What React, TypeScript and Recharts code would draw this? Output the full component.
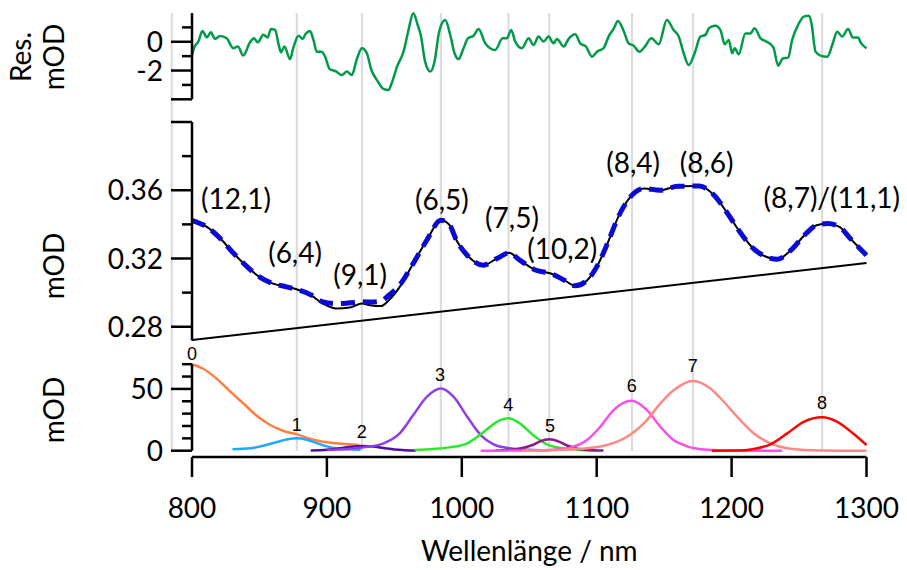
import React from 'react';
import { LineChart, Line, XAxis, YAxis, ReferenceDot } from 'recharts';

const FONT = 'Lato, "Open Sans", sans-serif';
const NUMFONT = '"Liberation Sans", Arial, sans-serif';

// ---------- axis ticks / titles ----------
const xTicks = [800, 900, 1000, 1100, 1200, 1300];
const xTitle = 'Wellenlänge / nm';
const resTicks = [-4, -3, -2, -1, 0, 1];
const resMajor = [-4, -2, 0];
const resLabeled = [-2, 0];
const midTicks = [0.28, 0.3, 0.32, 0.34, 0.36, 0.38, 0.4];
const midMajor = [0.28, 0.32, 0.36, 0.4];
const midLabeled = [0.28, 0.32, 0.36];
const botTicks = [0, 10, 20, 30, 40, 50, 60, 70];
const botMajor = [0, 50];
const botLabeled = [0, 50];

// ---------- peak centres (grey guide lines) ----------
const peakCenters = [785, 877.7, 926, 984.5, 1034.6, 1064.8, 1126.2, 1171.4, 1267.1];

// ---------- residual ----------
const resWl = [800, 802, 804.7, 807.7, 811, 814, 817, 820.8, 825.7, 830.6, 834, 838, 843, 846, 848.7, 853, 856, 858.6, 861.6, 864, 866, 868.5, 872.7, 875, 879, 882, 884, 887.5, 890, 892.5, 896, 898.7, 902, 907, 911, 914.8, 918.5, 922, 926, 929.6, 933, 937, 942, 945.6, 948, 952, 956.8, 960.5, 964, 967.5, 969.5, 972.8, 976.6, 979.8, 983.2, 987.7, 991.4, 994.6, 997.6, 1001.3, 1004.5, 1008.7, 1012.4, 1017.4, 1021, 1024.8, 1030.2, 1033.5, 1036.6, 1039.6, 1044.6, 1049.5, 1053.2, 1056.9, 1060.6, 1064.3, 1068, 1070.5, 1075.5, 1079.2, 1084.1, 1087.8, 1092, 1096.5, 1100.2, 1105.1, 1108.8, 1112.5, 1115.8, 1120, 1123.7, 1127.4, 1131.6, 1136, 1140.5, 1146, 1152, 1157, 1160.8, 1164.5, 1168.2, 1172.6, 1176.9, 1180.6, 1183.5, 1188, 1191.7, 1194.9, 1197.9, 1200.4, 1202.3, 1205.3, 1210.2, 1213.9, 1217.1, 1221.4, 1225, 1228.8, 1231.2, 1234.5, 1237.9, 1241.9, 1244.9, 1249.3, 1253.5, 1257.2, 1259.2, 1262.2, 1265.9, 1270.9, 1274.6, 1278.3, 1282, 1286.4, 1289.9, 1293.8, 1295.6, 1300];
const resVal = [-0.92, -0.33, 0.01, 0.75, 0.31, 0.66, 0.2, 0.4, 0.24, -0.45, -0.33, -0.96, -0.04, 0.24, -0.04, 0.48, 0.29, 0.89, 0.82, -0.11, -0.73, -0.33, -1.2, -0.45, 0.42, 0.2, 0.52, 0.75, 0.13, -0.69, -0.69, -1.04, -1.89, -2.07, -2.31, -2.07, -2.31, -1.26, -0.45, -0.8, -1.96, -2.65, -3.28, -3.36, -2.89, -1.73, -0.69, 0.82, 1.98, 1.1, 0.5, -1.38, -2.07, -1.38, 0.7, 1.51, 0.48, -0.8, -1.2, -0.45, 0.24, 0.42, 0.89, -0.11, -0.45, -0.57, 0.24, 0.24, 0.82, 0.01, -0.45, 0.24, -0.23, 0.36, 0.01, 0.36, -0.11, 0.2, -0.33, 0.2, 0.52, -0.11, -0.33, -1.04, -0.69, -0.45, 0.36, 0.89, 1.45, 0.75, -0.11, -0.27, -0.69, -0.3, 0.24, -0.17, 1.51, 0.82, 0.36, -0.8, -1.62, -0.8, 0.36, 0.48, 0.98, 1.12, 0.82, -0.17, 0.13, -0.8, -0.45, -0.87, 0.58, 0.58, 0.94, 0.24, 0.05, -0.17, -0.45, -1.66, -1.16, -1.1, 0.13, 1.17, 1.75, 1.81, 1.29, -0.69, -0.96, -1.04, -0.23, 0.7, 0.36, 0.89, 0.29, 0.29, -0.04, -0.45];

// ---------- spectrum, fit, baseline ----------
const specWl = [800, 811, 821, 831, 841, 850, 860, 870, 878, 888, 897, 907, 917, 926, 932, 940, 946, 954, 964, 974, 984.5, 991, 996, 1004, 1016, 1026, 1035, 1043, 1055, 1066, 1076, 1084, 1093, 1100, 1108, 1116, 1125, 1135, 1147, 1160, 1176, 1187, 1197, 1207, 1216, 1226, 1234, 1244, 1254, 1263, 1271, 1280, 1288, 1300];
const specMeas = [0.3424, 0.3385, 0.3317, 0.3229, 0.3151, 0.3092, 0.3053, 0.3034, 0.3018, 0.2985, 0.2936, 0.2907, 0.2913, 0.2936, 0.2926, 0.2921, 0.2956, 0.3034, 0.3171, 0.3307, 0.3424, 0.3395, 0.3307, 0.3219, 0.3161, 0.32, 0.3233, 0.319, 0.3131, 0.3112, 0.3073, 0.304, 0.3073, 0.3151, 0.3288, 0.3444, 0.3561, 0.361, 0.36, 0.3623, 0.3625, 0.3571, 0.3464, 0.3346, 0.3259, 0.3209, 0.3196, 0.3249, 0.3336, 0.3395, 0.3405, 0.3385, 0.3317, 0.3219];
const specFit = [0.3424, 0.3385, 0.3317, 0.3229, 0.3151, 0.3092, 0.3053, 0.3034, 0.3018, 0.2988, 0.2945, 0.2935, 0.294, 0.2946, 0.2945, 0.295, 0.2985, 0.3045, 0.3171, 0.3307, 0.3424, 0.3395, 0.3307, 0.3219, 0.3161, 0.32, 0.3233, 0.319, 0.3131, 0.3112, 0.3073, 0.304, 0.3073, 0.3151, 0.3288, 0.3444, 0.3561, 0.361, 0.36, 0.3623, 0.3625, 0.3571, 0.3464, 0.3346, 0.3259, 0.3209, 0.3196, 0.3249, 0.3336, 0.3395, 0.3405, 0.3385, 0.3317, 0.3219];
const baseWl = [800, 1300];
const baseVal = [0.2722, 0.3173];

// ---------- assignments ----------
const assignText = ['(12,1)', '(6,4)', '(9,1)', '(6,5)', '(7,5)', '(10,2)', '(8,4)', '(8,6)', '(8,7)/(11,1)'];
const assignWl = [832.6, 876.4, 924.6, 985.2, 1037.2, 1074.5, 1127, 1181.5, 1274.3];
const assignVal = [0.3541, 0.3225, 0.3096, 0.3533, 0.343, 0.3249, 0.3752, 0.3752, 0.3547];

// ---------- components ----------
const comp0Wl = [800, 808, 818, 828, 838, 848, 858, 868, 878, 888, 897, 907, 917, 924];
const comp0Val = [70, 66.5, 58.5, 48.2, 38.3, 28.3, 20.8, 15.9, 13.2, 9.5, 7.3, 6.0, 5.2, 4.6];
const comp1Wl = [830, 843, 855, 863, 870, 878, 885, 892, 900, 908, 917, 925];
const comp1Val = [1.1, 1.9, 4.6, 7.0, 9.0, 10.0, 8.9, 6.3, 3.5, 1.8, 1.1, 0.8];
const comp2Wl = [888, 900, 910, 918, 926, 934, 942, 950, 958, 966];
const comp2Val = [0.2, 0.8, 2.0, 3.2, 3.8, 3.4, 2.2, 1.0, 0.4, 0.1];
const comp3Wl = [900, 915, 927, 942, 954, 964, 974, 984.5, 994, 1004, 1014, 1023.5, 1036, 1050, 1065];
const comp3Val = [0.6, 1.4, 2.7, 6.0, 14.0, 28.8, 43.6, 50.4, 43.6, 27.5, 12.7, 5.2, 1.9, 0.7, 0.3];
const comp4Wl = [965, 979, 991, 1004, 1016, 1026, 1034.6, 1043, 1053, 1063, 1075.5, 1088, 1100];
const comp4Val = [0.6, 1.4, 2.7, 6.0, 14.9, 23.4, 26.2, 22.1, 12.5, 5.2, 1.9, 0.6, 0.2];
const comp5Wl = [1025, 1040, 1048, 1053, 1058, 1065, 1072, 1078, 1085, 1095, 1105];
const comp5Val = [0.2, 1.2, 3.0, 4.8, 7.5, 9.2, 7.3, 4.2, 1.8, 0.5, 0.1];
const comp6Wl = [1014, 1040, 1060, 1070, 1080.4, 1092.8, 1102.7, 1112.5, 1125.7, 1137.3, 1147.2, 1157, 1167, 1181.8, 1200, 1237.5];
const comp6Val = [0, 0.1, 0.4, 1.0, 2.5, 8.6, 19.4, 32.9, 40.4, 32.9, 19.4, 8.6, 3.5, 0.8, 0.2, 0];
const comp7Wl = [1045, 1070, 1092.8, 1107.6, 1122.5, 1137.3, 1147.2, 1157, 1171.4, 1184.3, 1194.2, 1204.1, 1216.5, 1228.8, 1241.2, 1258.5, 1280, 1300];
const comp7Val = [0.1, 0.6, 1.9, 4.6, 11.3, 24.8, 38.3, 49, 56.5, 50.4, 39.6, 27.5, 14, 6, 1.9, 0.3, 0.05, 0];
const comp8Wl = [1185.5, 1204, 1216.5, 1228.8, 1241.2, 1253.5, 1267.1, 1278.3, 1290.6, 1300];
const comp8Val = [0, 0.1, 1.4, 5.2, 14, 23.4, 27, 23.4, 13.5, 4.6];
const compColors = ['#ff7f40', '#1ea8ff', '#50109a', '#8f3fe6', '#2be82b', '#8b1a8b', '#f650e4', '#fb8a84', '#ff0000'];
const compNames = ['0', '1', '2', '3', '4', '5', '6', '7', '8'];
const compLabelWl = [800, 877.7, 925.8, 983.9, 1034.5, 1065.4, 1126, 1171.2, 1267];
const compLabelVal = [78.8, 21.5, 15.4, 61.9, 37.6, 20.4, 52.5, 68.7, 39];

// ---------- derived tables ----------
const zip = (w: number[], v: number[]) => w.map((wl, i) => ({ wl, v: v[i] }));
const resData = zip(resWl, resVal);
const measData = zip(specWl, specMeas);
const fitData = zip(specWl, specFit);
const baseData = zip(baseWl, baseVal);
const compData = [
  zip(comp0Wl, comp0Val), zip(comp1Wl, comp1Val), zip(comp2Wl, comp2Val),
  zip(comp3Wl, comp3Val), zip(comp4Wl, comp4Val), zip(comp5Wl, comp5Val),
  zip(comp6Wl, comp6Val), zip(comp7Wl, comp7Val), zip(comp8Wl, comp8Val),
];
const axisData = xTicks.map((wl) => ({ wl }));
// each guide line: a vertical segment spanning the full stacked height (0 → 1 on a unit axis)
const guideData = peakCenters.map((wl) => [{ wl, v: 0 }, { wl, v: 1 }]);

const W = 907;
const H = 570;
const PLOT_L = 192;
const PLOT_R = 866.5;
const YW = 60;
const GUIDE_L = PLOT_L - (20 * (PLOT_R - PLOT_L)) / 500; // guide chart starts at 780 nm

const near = (arr: number[], v: number) => arr.some((m) => Math.abs(m - v) < 1e-6);

function makeYTick(major: number[], labeled: number[], fmt: (v: number) => string) {
  return (props: any) => {
    const { x, y, payload } = props;
    const v = payload.value;
    const len = near(major, v) ? 21 : 10;
    return (
      <g>
        <line x1={x - len} x2={x} y1={y} y2={y} stroke="#000" strokeWidth={2.5} />
        {near(labeled, v) && (
          <text x={x - 29} y={y + 10} textAnchor="end" fontSize={28} fontFamily={FONT} fill="#000">
            {fmt(v)}
          </text>
        )}
      </g>
    );
  };
}

const XTick = (props: any) => {
  const { x, y, payload } = props;
  return (
    <g>
      <line x1={x} x2={x} y1={y} y2={y + 20} stroke="#000" strokeWidth={2.5} />
      <text x={x} y={y + 61} textAnchor="middle" fontSize={28} fontFamily={FONT} fill="#000">
        {payload.value}
      </text>
    </g>
  );
};

const rotTitle = (lines: { text: string; x: number }[], cy: number) => () => (
  <g>
    {lines.map((l, i) => (
      <text
        key={i}
        x={l.x}
        y={cy}
        transform={`rotate(-90 ${l.x} ${cy})`}
        textAnchor="middle"
        dy={10}
        fontSize={28}
        fontFamily={FONT}
        fill="#000"
      >
        {l.text}
      </text>
    ))}
  </g>
);

const centerText = (text: string, fontSize: number, family: string, dy: number) => (p: any) => {
  const vb = p.viewBox || {};
  const cx = (vb.x || 0) + (vb.width || 0) / 2;
  const cy = (vb.y || 0) + (vb.height || 0) / 2;
  return (
    <text x={cx} y={cy + dy} textAnchor="middle" fontSize={fontSize} fontFamily={family} fill="#000">
      {text}
    </text>
  );
};

const layer: React.CSSProperties = { position: 'absolute', left: 0, top: 0 };

export default function App() {
  return (
    <div style={{ position: 'absolute', left: 0, top: 0, width: W, height: H, background: '#fff', fontFamily: FONT }}>
      {/* grey guide lines */}
      <div style={layer}>
        <LineChart width={W} height={H} margin={{ top: 13, bottom: H - 451, left: GUIDE_L, right: W - PLOT_R }}>
          <XAxis dataKey="wl" type="number" domain={[780, 1300]} hide />
          <YAxis type="number" domain={[0, 1]} hide />
          {guideData.map((d, i) => (
            <Line key={i} data={d} dataKey="v" type="linear" stroke="#dcdcdc" strokeWidth={2.2} dot={false} isAnimationActive={false} />
          ))}
        </LineChart>
      </div>

      {/* residual panel */}
      <div style={layer}>
        <LineChart width={W} height={H} margin={{ top: 13, bottom: H - 99.3, left: PLOT_L - YW, right: W - PLOT_R }}>
          <XAxis dataKey="wl" type="number" domain={[800, 1300]} hide />
          <YAxis
            type="number"
            domain={[-4, 2]}
            ticks={resTicks}
            interval={0}
            width={YW}
            tickSize={0}
            tickMargin={0}
            tickLine={false}
            axisLine={{ stroke: '#000', strokeWidth: 2.5 }}
            tick={makeYTick(resMajor, resLabeled, (v) => String(v))}
            label={rotTitle([{ text: 'Res.', x: 21 }, { text: 'mOD', x: 54 }], 57)}
          />
          <Line data={resData} dataKey="v" type="monotone" stroke="#009a48" strokeWidth={2.5} dot={false} isAnimationActive={false} />
        </LineChart>
      </div>

      {/* spectrum panel */}
      <div style={layer}>
        <LineChart width={W} height={H} margin={{ top: 122, bottom: H - 340.4, left: PLOT_L - YW, right: W - PLOT_R }}>
          <XAxis dataKey="wl" type="number" domain={[800, 1300]} hide />
          <YAxis
            type="number"
            domain={[0.272, 0.4]}
            ticks={midTicks}
            interval={0}
            width={YW}
            tickSize={0}
            tickMargin={0}
            tickLine={false}
            axisLine={{ stroke: '#000', strokeWidth: 2.5 }}
            tick={makeYTick(midMajor, midLabeled, (v) => v.toFixed(2))}
            label={rotTitle([{ text: 'mOD', x: 54 }], 266)}
          />
          <Line data={baseData} dataKey="v" type="linear" stroke="#000" strokeWidth={2} dot={false} isAnimationActive={false} />
          <Line data={measData} dataKey="v" type="monotone" stroke="#000" strokeWidth={2} dot={false} isAnimationActive={false} />
          <Line data={fitData} dataKey="v" type="monotone" stroke="#0a0ad2" strokeWidth={5} strokeDasharray="14 8" dot={false} isAnimationActive={false} />
          {assignText.map((t, i) => (
            <ReferenceDot
              key={i}
              x={assignWl[i]}
              y={assignVal[i]}
              r={0}
              fill="none"
              stroke="none"
              ifOverflow="visible"
              label={centerText(t, 28, FONT, 8.4)}
            />
          ))}
        </LineChart>
      </div>

      {/* components panel */}
      <div style={layer}>
        <LineChart width={W} height={H} margin={{ top: 364.2, bottom: H - 450.7, left: PLOT_L - YW, right: W - PLOT_R }}>
          <XAxis dataKey="wl" type="number" domain={[800, 1300]} hide />
          <YAxis
            type="number"
            domain={[0, 70]}
            ticks={botTicks}
            interval={0}
            width={YW}
            tickSize={0}
            tickMargin={0}
            tickLine={false}
            axisLine={{ stroke: '#000', strokeWidth: 2.5 }}
            tick={makeYTick(botMajor, botLabeled, (v) => String(v))}
            label={rotTitle([{ text: 'mOD', x: 54 }], 410)}
          />
          {compData.map((d, i) => (
            <Line key={i} data={d} dataKey="v" type="monotone" stroke={compColors[i]} strokeWidth={2.5} dot={false} isAnimationActive={false} />
          ))}
          {compNames.map((n, i) => (
            <ReferenceDot
              key={'l' + i}
              x={compLabelWl[i]}
              y={compLabelVal[i]}
              r={0}
              fill="none"
              stroke="none"
              ifOverflow="visible"
              label={centerText(n, 18, NUMFONT, 6.5)}
            />
          ))}
        </LineChart>
      </div>

      {/* shared x axis */}
      <div style={layer}>
        <LineChart width={W} height={H} data={axisData} margin={{ top: 364, bottom: H - 457 - 60, left: PLOT_L, right: W - PLOT_R }}>
          <XAxis
            dataKey="wl"
            type="number"
            domain={[800, 1300]}
            ticks={xTicks}
            interval={0}
            height={60}
            tickSize={0}
            tickMargin={0}
            tickLine={false}
            axisLine={{ stroke: '#000', strokeWidth: 2.5 }}
            tick={XTick}
            label={() => (
              <text x={(PLOT_L + PLOT_R) / 2} y={561} textAnchor="middle" fontSize={28} fontFamily={FONT} fill="#000">
                {xTitle}
              </text>
            )}
          />
          <YAxis type="number" domain={[0, 1]} hide />
        </LineChart>
      </div>
    </div>
  );
}
